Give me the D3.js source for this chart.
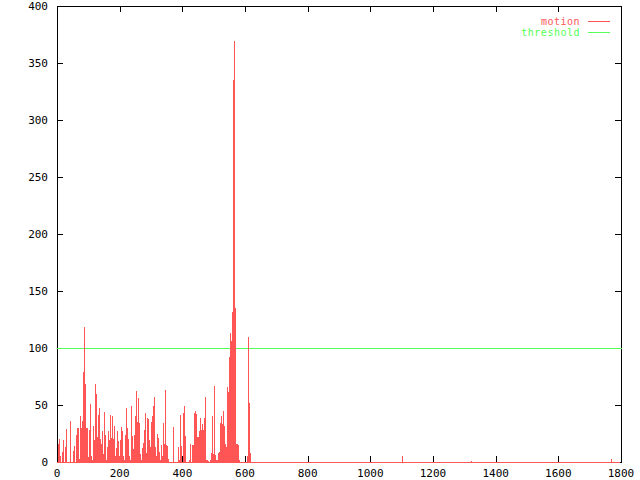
<!DOCTYPE html>
<html>
<head>
<meta charset="utf-8">
<script src="https://cdn.jsdelivr.net/npm/d3@7"></script>
<style>
  body { margin: 0; background: #fff; }
  text { font-family: "DejaVu Sans Mono", monospace; font-size: 11px; }
  text.key { font-size: 10px; letter-spacing: 0.5px; }
</style>
</head>
<body>
<svg id="chart" width="640" height="480"></svg>
<script>
// motion samples, one every ~3.19 frames starting at frame 3.2
var motionStart = 3.2;
var motionStep = 3.19;
var motion = [
    16,20,5,0,9,19,0,13,29,0,0,0,
    36,0,0,10,14,0,24,30,30,3,
    40,30,36,79,118,68,30,30,4,28,
    51,5,2,32,19,68,60,22,41,47,
    20,16,27,7,44,24,2,13,27,19,
    41,21,40,20,32,5,12,27,18,5,
    19,31,27,5,2,24,47,30,20,5,
    2,49,23,11,24,40,62,35,56,34,
    7,2,12,17,28,43,8,39,38,19,
    13,35,40,49,57,13,5,25,21,9,
    2,15,5,34,16,63,15,14,3,0,
    0,0,0,31,0,0,0,0,13,2,
    41,14,0,43,49,23,0,0,0,2,
    16,0,15,15,43,45,42,22,22,27,
    39,28,33,28,39,57,2,2,1,0,
    2,8,40,7,67,6,2,2,8,9,
    34,40,33,45,32,16,13,66,61,92,
    113,106,132,335,369,135,16,16,15,2,
    0,0,0,0,0,0,0,5,110,52,
    8
];
// isolated small blips later on
var lateFrames = [1101, 1320, 1768];
var lateMotion = [5, 1, 3];
var lastFrame = 1795;

var threshold = 100;
var xTicks = [0, 200, 400, 600, 800, 1000, 1200, 1400, 1600, 1800];
var yTicks = [0, 50, 100, 150, 200, 250, 300, 350, 400];

var red = "#ff5555";
var green = "#55ff55";

let svg = d3.select("#chart");
let mLeft = 57, mRight = 621, mTop = 6, mBottom = 462;

let x = d3.scaleLinear().domain([0, 1800]).range([mLeft, mRight]);
let y = d3.scaleLinear().domain([0, 400]).range([mBottom, mTop]);

let points = motion.map((v, i) => ({frame: motionStart + i * motionStep, value: v}));
lateFrames.forEach((f, i) => points.push({frame: f, value: lateMotion[i]}));

let px = v => Math.round(x(v)) + 0.5;
let py = v => Math.round(y(v)) + 0.5;

// ticks (mirrored on all four sides, pointing inwards)
let g = svg.append("g").attr("shape-rendering", "crispEdges");
yTicks.forEach(t => {
    g.append("line").attr("x1", mLeft).attr("x2", mLeft + 6)
        .attr("y1", py(t)).attr("y2", py(t)).attr("stroke", "#000");
    g.append("line").attr("x1", mRight - 6).attr("x2", mRight)
        .attr("y1", py(t)).attr("y2", py(t)).attr("stroke", "#000");
    svg.append("text").attr("x", 48).attr("y", y(t)).attr("dy", "0.35em")
        .attr("text-anchor", "end").text(t);
});
xTicks.forEach(t => {
    g.append("line").attr("x1", px(t)).attr("x2", px(t))
        .attr("y1", mBottom).attr("y2", mBottom - 6).attr("stroke", "#000");
    g.append("line").attr("x1", px(t)).attr("x2", px(t))
        .attr("y1", mTop).attr("y2", mTop + 6).attr("stroke", "#000");
    svg.append("text").attr("x", x(t)).attr("y", 477)
        .attr("text-anchor", "middle").text(t);
});

// frame
g.append("rect")
    .attr("x", mLeft + 0.5).attr("y", mTop + 0.5)
    .attr("width", mRight - mLeft).attr("height", mBottom - mTop)
    .attr("fill", "none").attr("stroke", "#000");

// threshold
g.append("line")
    .attr("x1", mLeft).attr("x2", mRight + 1)
    .attr("y1", py(threshold)).attr("y2", py(threshold))
    .attr("stroke", green);

// impulses (zero values sit on the baseline)
g.append("line")
    .attr("x1", mLeft).attr("x2", px(lastFrame))
    .attr("y1", py(0)).attr("y2", py(0))
    .attr("stroke", red);
g.selectAll(".imp")
    .data(points.filter(d => d.value > 0))
    .enter().append("line")
    .attr("class", "imp")
    .attr("x1", d => px(d.frame)).attr("x2", d => px(d.frame))
    .attr("y1", py(0)).attr("y2", d => Math.round(y(d.value)))
    .attr("stroke", red);

// legend
let legend = [{name: "motion", color: red}, {name: "threshold", color: green}];
legend.forEach((l, i) => {
    let ly = 21 + i * 11;
    svg.append("text").attr("class", "key")
        .attr("x", 580).attr("y", ly).attr("dy", "0.35em")
        .attr("text-anchor", "end").attr("fill", l.color).text(l.name);
    g.append("line").attr("x1", 588).attr("x2", 610)
        .attr("y1", ly + 0.5).attr("y2", ly + 0.5).attr("stroke", l.color);
});
</script>
</body>
</html>
